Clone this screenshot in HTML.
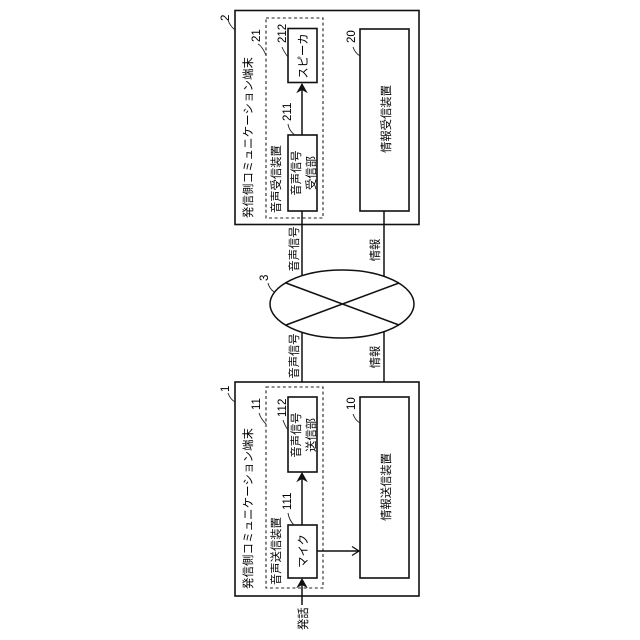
<!DOCTYPE html>
<html><head><meta charset="utf-8"><style>
html,body{margin:0;padding:0;background:#fff}
svg{display:block}
text{font-family:"Liberation Sans","Noto Sans CJK JP",sans-serif;fill:#000}
.b{fill:#fff;stroke:#111;stroke-width:1.6}
.l{fill:none;stroke:#111;stroke-width:1.5}
.c{fill:none;stroke:#222;stroke-width:.9}
.d{fill:none;stroke:#222;stroke-width:1.1;stroke-dasharray:3 2.6}
.a{fill:#111;stroke:#111;stroke-width:1}
.o{fill:none;stroke:#111;stroke-width:1.3}
</style></head><body>
<svg width="640" height="640" viewBox="0 0 640 640" xmlns="http://www.w3.org/2000/svg">
<!-- boxes -->
<rect class="b" x="235" y="10.5" width="184" height="214"/>
<rect class="b" x="235" y="382" width="184" height="214"/>
<rect class="d" x="266" y="18" width="57" height="200"/>
<rect class="d" x="266" y="387" width="57" height="201"/>
<path class="l" d="M302 135V84M302 211V382M384 211V382M302 525V474M302 605V580M317 551H359"/>
<rect class="b" x="288" y="28.5" width="29" height="54"/>
<rect class="b" x="288" y="135" width="29" height="76"/>
<rect class="b" x="360" y="29" width="49" height="182"/>
<rect class="b" x="288" y="397" width="29" height="75"/>
<rect class="b" x="288" y="525" width="29" height="53"/>
<rect class="b" x="360" y="397" width="49" height="181"/>
<!-- arrowheads -->
<path class="a" d="M302 84L297.5 92L302 89.5L306.500 92Z"/>
<path class="a" d="M302 473L297.500 481L302 478.500L306.500 481Z"/>
<path class="a" d="M302 579L297.500 587L302 584.500L306.500 587Z"/>
<path class="o" d="M352 546.500L359 551L352 555.500"/>
<!-- network -->
<ellipse cx="342" cy="304" rx="72" ry="34" fill="#fff" stroke="#111" stroke-width="1.5"/>
<path class="l" d="M286 283L399 325M399 283L286 325"/>
<!-- leader lines -->
<path class="c" d="M228 20Q230 26 235 30"/>
<path class="c" d="M228 393Q230 399 235 402"/>
<path class="c" d="M258 44Q262 46 266 55"/>
<path class="c" d="M259 413Q261 419 266 424"/>
<path class="c" d="M282 47Q284 52 288 57"/>
<path class="c" d="M288 124Q289 131 295 135"/>
<path class="c" d="M353 47Q355 53 360 56"/>
<path class="c" d="M283 420Q285 426 288 430"/>
<path class="c" d="M288 513Q289 520 294 525"/>
<path class="c" d="M353 414Q355 420 360 423"/>
<path class="c" d="M268 283Q269 288 274 292"/>
<!-- numbers -->
<g font-size="11.500">
<text transform="translate(229,21) rotate(-90)">2</text>
<text transform="translate(229,392) rotate(-90)">1</text>
<text transform="translate(260,42) rotate(-90)">21</text>
<text transform="translate(260,410) rotate(-90)">11</text>
<text transform="translate(286,43) rotate(-90)">212</text>
<text transform="translate(291,121) rotate(-90)">211</text>
<text transform="translate(286,417) rotate(-90)">112</text>
<text transform="translate(291,510) rotate(-90)">111</text>
<text transform="translate(355,43) rotate(-90)">20</text>
<text transform="translate(355,410) rotate(-90)">10</text>
<text transform="translate(268,281) rotate(-90)">3</text>
</g>
<!-- labels -->
<g font-size="11.300">
<text transform="translate(252,218) rotate(-90)" textLength="161" lengthAdjust="spacing">発信側コミュニケーション端末</text>
<text transform="translate(252,589) rotate(-90)" textLength="161" lengthAdjust="spacing">発信側コミュニケーション端末</text>
<text transform="translate(280,213) rotate(-90)">音声受信装置</text>
<text transform="translate(280,585) rotate(-90)">音声送信装置</text>
<text transform="translate(307,56) rotate(-90)" text-anchor="middle">スピーカ</text>
<text transform="translate(300,173) rotate(-90)" text-anchor="middle">音声信号</text>
<text transform="translate(315,173) rotate(-90)" text-anchor="middle">受信部</text>
<text transform="translate(300,435) rotate(-90)" text-anchor="middle">音声信号</text>
<text transform="translate(315,435) rotate(-90)" text-anchor="middle">送信部</text>
<text transform="translate(307,551) rotate(-90)" text-anchor="middle">マイク</text>
<text transform="translate(390,119) rotate(-90)" text-anchor="middle">情報受信装置</text>
<text transform="translate(390,487) rotate(-90)" text-anchor="middle">情報送信装置</text>
<text transform="translate(298,249) rotate(-90)" text-anchor="middle">音声信号</text>
<text transform="translate(298,356) rotate(-90)" text-anchor="middle">音声信号</text>
<text transform="translate(379,250) rotate(-90)" text-anchor="middle">情報</text>
<text transform="translate(379,357) rotate(-90)" text-anchor="middle">情報</text>
<text transform="translate(307,630) rotate(-90)">発話</text>
</g>
</svg>
</body></html>
